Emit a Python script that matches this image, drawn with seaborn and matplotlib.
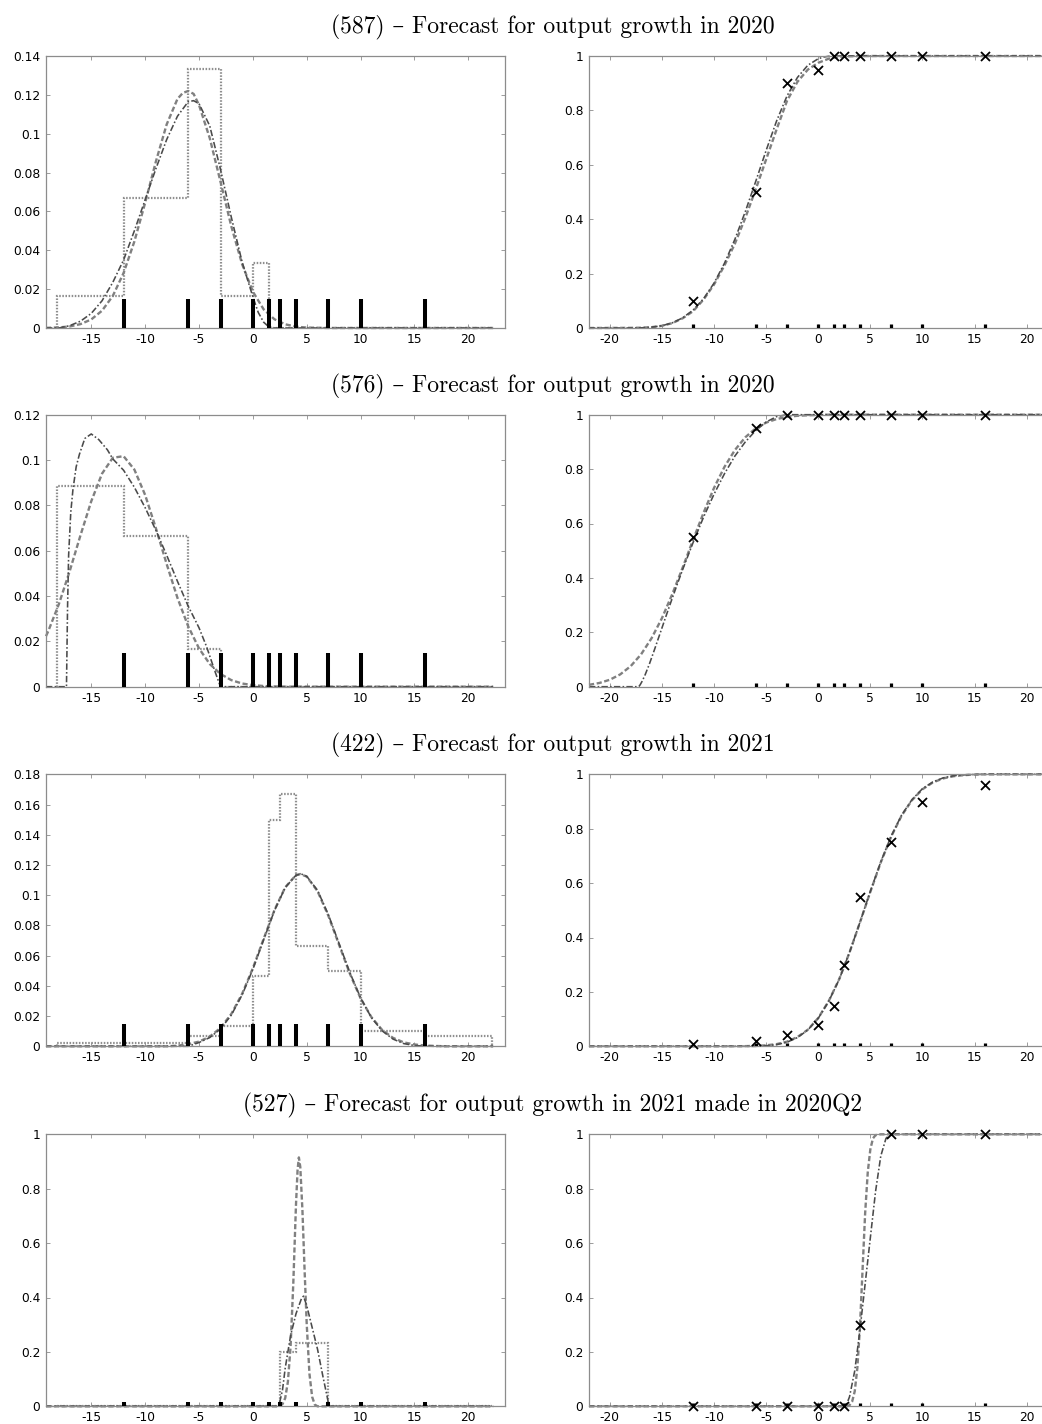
import matplotlib
matplotlib.use("Agg")
import matplotlib.pyplot as plt
from matplotlib.ticker import FuncFormatter
import seaborn as sns
import pandas as pd

# ---------------- data ----------------
TITLES = [
    "(587) \u2013 Forecast for output growth in 2020",
    "(576) \u2013 Forecast for output growth in 2020",
    "(422) \u2013 Forecast for output growth in 2021",
    "(527) \u2013 Forecast for output growth in 2021 made in 2020Q2",
]
BIN_EDGES = [-12, -6, -3, 0, 1.5, 2.5, 4, 7, 10, 16]
HIST_EDGES = [-18.2, -12, -6, -3, 0, 1.5, 2.5, 4, 7, 10, 16, 22.2]

R1_HIST = [0.0165, 0.0667, 0.1333, 0.0167, 0.0333, 0, 0, 0, 0, 0, 0]
R2_HIST = [0.0885, 0.0667, 0.0167, 0, 0, 0, 0, 0, 0, 0, 0]
R3_HIST = [0.002, 0.002, 0.0067, 0.0133, 0.0467, 0.15, 0.1667, 0.0667, 0.05, 0.01, 0.0067]
R4_HIST = [0, 0, 0, 0, 0, 0, 0.2, 0.2333, 0, 0, 0]

R1_CDF_PTS = [0.1, 0.5, 0.9, 0.95, 1, 1, 1, 1, 1, 1]
R2_CDF_PTS = [0.55, 0.95, 1, 1, 1, 1, 1, 1, 1, 1]
R3_CDF_PTS = [0.01, 0.02, 0.04, 0.08, 0.15, 0.30, 0.55, 0.75, 0.90, 0.96]
R4_CDF_PTS = [0, 0, 0, 0, 0, 0, 0.3, 1, 1, 1]

# row 1 fitted densities
R1_PDF_DASH_X = [-19.2, -19, -18, -17, -16, -15, -14, -13, -12, -11, -10, -9, -8, -7, -6.5, -6, -5.5,
                 -5, -4, -3, -2, -1, 0, 1, 2, 3, 4, 5, 6, 7, 22.3]
R1_PDF_DASH_Y = [0.0001, 0.0001, 0.0003, 0.0008, 0.002, 0.0044, 0.0089, 0.0165, 0.0283, 0.0445, 0.0644,
                 0.0857, 0.1048, 0.1179, 0.1210, 0.122, 0.1205, 0.1148, 0.0977, 0.0752, 0.0523, 0.0329,
                 0.0187, 0.0096, 0.0045, 0.0019, 0.0007, 0.0002, 0.0001, 0.0, 0.0]
R1_PDF_DD_X = [-19.2, -18, -17, -16, -15, -14, -13, -12, -11, -10, -9, -8, -7, -6, -5.5, -5, -4, -3,
               -2, -1, 0, 0.5, 1, 1.5, 2, 22.3]
R1_PDF_DD_Y = [0, 0, 0.0012, 0.0035, 0.0075, 0.014, 0.0235, 0.035, 0.05, 0.066, 0.082, 0.097, 0.109,
               0.1165, 0.117, 0.1155, 0.104, 0.0815, 0.057, 0.034, 0.016, 0.008, 0.003, 0.0005, 0, 0]
R1_CDF_DASH_X = [-22, -18, -17, -16, -15, -14, -13, -12, -11, -10, -9, -8, -7, -6, -5, -4, -3, -2, -1,
                 0, 1, 2, 3, 4, 22]
R1_CDF_DASH_Y = [0, 0.0005, 0.001, 0.003, 0.008, 0.018, 0.036, 0.062, 0.105, 0.16, 0.23, 0.31, 0.405,
                 0.51, 0.62, 0.73, 0.835, 0.905, 0.95, 0.975, 0.99, 0.997, 0.999, 1.0, 1.0]
R1_CDF_DD_X = [-22, -18, -17, -16, -15, -14, -13, -12, -11, -10, -9, -8, -7, -6, -5, -4, -3, -2, -1,
               0, 0.5, 1, 1.5, 22]
R1_CDF_DD_Y = [0, 0, 0.0006, 0.003, 0.0084, 0.019, 0.0375, 0.0663, 0.108, 0.165, 0.238, 0.326, 0.428,
               0.539, 0.653, 0.761, 0.853, 0.921, 0.966, 0.99, 0.996, 0.999, 1.0, 1.0]

# row 2
R2_PDF_DASH_X = [-19.2, -19, -18, -17, -16, -15, -14, -13, -12, -11, -10, -9, -8, -7, -6, -5, -4, -3,
                 -2, -1, 0, 1, 2, 3, 22.3]
R2_PDF_DASH_Y = [0.0223, 0.0244, 0.0365, 0.051, 0.0668, 0.0818, 0.094, 0.101, 0.1017, 0.0958, 0.0846,
                 0.0699, 0.0541, 0.0392, 0.0266, 0.0169, 0.01, 0.0056, 0.0029, 0.0014, 0.0007, 0.0003,
                 0.0001, 0, 0]
R2_PDF_DD_X = [-19.2, -17.3, -17.2, -17.1, -16.9, -16.7, -16.4, -16.1, -15.6, -15, -14.3, -13.5, -13,
               -12, -11, -10, -9, -8, -7, -6, -5, -4.3, -4, -3.5, -3.2, -3, 22.3]
R2_PDF_DD_Y = [0, 0, 0.035, 0.058, 0.077, 0.087, 0.097, 0.1025, 0.1095, 0.1115, 0.109, 0.1045, 0.1005,
               0.0955, 0.088, 0.079, 0.069, 0.058, 0.0465, 0.0355, 0.026, 0.0177, 0.0135, 0.0065,
               0.0025, 0, 0]
R2_CDF_DASH_X = [-22, -21, -20, -19, -18, -17, -16, -15, -14, -13, -12, -11, -10, -9, -8, -7, -6, -5,
                 -4, -3, -2, -1, 0, 1, 22]
R2_CDF_DASH_Y = [0.0069, 0.0137, 0.0256, 0.0453, 0.0755, 0.119, 0.178, 0.252, 0.341, 0.439, 0.541,
                 0.64, 0.731, 0.808, 0.87, 0.917, 0.95, 0.971, 0.984, 0.992, 0.996, 0.998, 0.999, 1.0,
                 1.0]
R2_CDF_DD_X = [-22, -17.3, -17.2, -17.1, -16.9, -16.6, -16.2, -15.7, -15, -14.3, -13.5, -13, -12, -11,
               -10, -9, -8, -7, -6, -5, -4, -3, 22]
R2_CDF_DD_Y = [0, 0, 0.0017, 0.0064, 0.02, 0.045, 0.084, 0.138, 0.216, 0.294, 0.38, 0.432, 0.531,
               0.624, 0.708, 0.783, 0.848, 0.90, 0.942, 0.973, 0.993, 1.0, 1.0]

# row 3
R3_PDF_DASH_X = [-19.2, -8, -7, -6, -5, -4, -3, -2, -1, 0, 1, 2, 3, 4, 4.4, 5, 6, 7, 8, 9, 10, 11, 12,
                 13, 14, 15, 16, 17, 18, 22.3]
R3_PDF_DASH_Y = [0, 0, 0.0004, 0.0014, 0.0031, 0.0064, 0.0122, 0.0214, 0.0347, 0.0517, 0.0711, 0.0901,
                 0.1052, 0.1133, 0.114, 0.1123, 0.1027, 0.0865, 0.0672, 0.0481, 0.0317, 0.0193, 0.0108,
                 0.0056, 0.0026, 0.0012, 0.0005, 0.0002, 0, 0]
R3_PDF_DD_X = [-19.2, -6, -5, -4, -3, -2, -1, 0, 1, 2, 3, 4, 4.5, 5, 6, 7, 8, 9, 10, 11, 12, 13, 14, 15,
               16, 17, 22.3]
R3_PDF_DD_Y = [0, 0, 0.0025, 0.0058, 0.0115, 0.0207, 0.034, 0.051, 0.0705, 0.0898, 0.105, 0.1132,
               0.114, 0.1125, 0.1032, 0.0872, 0.068, 0.0488, 0.032, 0.019, 0.0102, 0.0048, 0.0018,
               0.0005, 0.0001, 0, 0]
R3_CDF_DASH_X = [-22, -8, -7, -6, -5, -4, -3, -2, -1, 0, 1, 2, 3, 4, 5, 6, 7, 8, 9, 10, 11, 12, 13, 14,
                 15, 16, 22]
R3_CDF_DASH_Y = [0, 0.0002, 0.0006, 0.0015, 0.0036, 0.008, 0.017, 0.034, 0.061, 0.104, 0.166, 0.246,
                 0.345, 0.455, 0.568, 0.676, 0.771, 0.848, 0.905, 0.945, 0.970, 0.985, 0.993, 0.997,
                 0.999, 1.0, 1.0]
R3_CDF_DD_X = [-22, -6, -5, -4, -3, -2, -1, 0, 1, 2, 3, 4, 5, 6, 7, 8, 9, 10, 11, 12, 13, 14, 15, 16,
               22]
R3_CDF_DD_Y = [0, 0, 0.002, 0.006, 0.015, 0.032, 0.06, 0.103, 0.165, 0.245, 0.345, 0.456, 0.57, 0.678,
               0.773, 0.85, 0.907, 0.947, 0.972, 0.987, 0.995, 0.998, 0.9995, 1.0, 1.0]

# row 4
R4_PDF_DASH_X = [-19.2, 2.4, 2.75, 3.0, 3.25, 3.5, 3.75, 4.0, 4.15, 4.27, 4.4, 4.6, 4.8, 5.0, 5.25, 5.5,
                 5.75, 6.0, 22.3]
R4_PDF_DASH_Y = [0, 0, 0.008, 0.03, 0.09, 0.22, 0.45, 0.74, 0.87, 0.915, 0.88, 0.72, 0.5, 0.3, 0.12,
                 0.035, 0.006, 0, 0]
R4_PDF_DD_X = [-19.2, 2.4, 2.75, 3.0, 3.5, 4.0, 4.5, 4.7, 5.0, 5.5, 6.0, 6.5, 7.0, 7.1, 22.3]
R4_PDF_DD_Y = [0, 0, 0.06, 0.14, 0.26, 0.34, 0.395, 0.405, 0.37, 0.29, 0.21, 0.11, 0.015, 0, 0]
R4_CDF_DASH_X = [-22, 2.75, 3.0, 3.25, 3.5, 3.75, 4.0, 4.25, 4.5, 4.75, 5.0, 5.25, 5.5, 6.0, 22]
R4_CDF_DASH_Y = [0, 0, 0.004, 0.017, 0.055, 0.14, 0.29, 0.5, 0.71, 0.86, 0.945, 0.985, 0.997, 1.0, 1.0]
R4_CDF_DD_X = [-22, 2.4, 2.75, 3.0, 3.5, 4.0, 4.5, 5.0, 5.5, 6.0, 6.5, 6.9, 22]
R4_CDF_DD_Y = [0, 0, 0.01, 0.035, 0.13, 0.28, 0.45, 0.62, 0.79, 0.92, 0.985, 1.0, 1.0]

LEFT_YMAX = [0.14, 0.12, 0.18, 1.0]
LEFT_YSTEP = [0.02, 0.02, 0.02, 0.2]

ROWS = [
    (R1_HIST, R1_CDF_PTS, (R1_PDF_DASH_X, R1_PDF_DASH_Y), (R1_PDF_DD_X, R1_PDF_DD_Y),
     (R1_CDF_DASH_X, R1_CDF_DASH_Y), (R1_CDF_DD_X, R1_CDF_DD_Y)),
    (R2_HIST, R2_CDF_PTS, (R2_PDF_DASH_X, R2_PDF_DASH_Y), (R2_PDF_DD_X, R2_PDF_DD_Y),
     (R2_CDF_DASH_X, R2_CDF_DASH_Y), (R2_CDF_DD_X, R2_CDF_DD_Y)),
    (R3_HIST, R3_CDF_PTS, (R3_PDF_DASH_X, R3_PDF_DASH_Y), (R3_PDF_DD_X, R3_PDF_DD_Y),
     (R3_CDF_DASH_X, R3_CDF_DASH_Y), (R3_CDF_DD_X, R3_CDF_DD_Y)),
    (R4_HIST, R4_CDF_PTS, (R4_PDF_DASH_X, R4_PDF_DASH_Y), (R4_PDF_DD_X, R4_PDF_DD_Y),
     (R4_CDF_DASH_X, R4_CDF_DASH_Y), (R4_CDF_DD_X, R4_CDF_DD_Y)),
]

# ---------------- style ----------------
sns.set_theme(style="white")
plt.rcParams["font.family"] = ["DejaVu Sans"]
plt.rcParams["axes.unicode_minus"] = False

W, H = 1042, 1424
fig = plt.figure(figsize=(W / 100, H / 100), dpi=100)

DASH_COLOR = "#808080"
DD_COLOR = "#4a4a4a"
HIST_COLOR = "#8e8e8e"
SPINE_COLOR = "#8c8c8c"
DASH_LS = (0, (2.2, 1.1))
DD_LS = (0, (4.0, 1.4, 1.0, 1.4))
HIST_LS = (0, (0.7, 0.7))

fmt = FuncFormatter(lambda v, p: "%g" % round(v, 6))

ROW_TOPS = [56, 414.7, 774.3, 1134.3]
AX_H = 272
LEFT_X0, LEFT_W = 46, 459
RIGHT_X0, RIGHT_W = 589, 458.5


def style_axes(ax):
    for s in ax.spines.values():
        s.set_color(SPINE_COLOR)
        s.set_linewidth(0.9)
        s.set_visible(True)
    ax.tick_params(direction="in", length=3, width=0.6, color=SPINE_COLOR,
                   top=True, right=True, bottom=True, left=True,
                   labelsize=8.8, labelcolor="black")
    ax.tick_params(axis="x", pad=3.5)
    ax.tick_params(axis="y", pad=4)
    ax.xaxis.set_major_formatter(fmt)
    ax.yaxis.set_major_formatter(fmt)
    ax.grid(False)
    ax.set_xlabel("")
    ax.set_ylabel("")


def line(ax, xy, color, ls, lw):
    df = pd.DataFrame({"x": xy[0], "y": xy[1]})
    sns.lineplot(data=df, x="x", y="y", ax=ax, color=color, linestyle=ls,
                 linewidth=lw, errorbar=None, sort=False, clip_on=False)


for i, (hist, cdf_pts, pdf_dash, pdf_dd, cdf_dash, cdf_dd) in enumerate(ROWS):
    top = ROW_TOPS[i]
    bottom_frac = 1 - (top + AX_H) / H
    h_frac = AX_H / H
    axl = fig.add_axes([LEFT_X0 / W, bottom_frac, LEFT_W / W, h_frac])
    axr = fig.add_axes([RIGHT_X0 / W, bottom_frac, RIGHT_W / W, h_frac])

    # ---- left: histogram + fitted densities ----
    ymax = LEFT_YMAX[i]
    axl.stairs(hist, HIST_EDGES, baseline=0, color=HIST_COLOR, linestyle=HIST_LS,
               linewidth=1.6, zorder=2)
    line(axl, pdf_dash, DASH_COLOR, DASH_LS, 1.7)
    line(axl, pdf_dd, DD_COLOR, DD_LS, 1.15)
    axl.vlines(BIN_EDGES, 0, 0.015, colors="black", linewidth=2.9, zorder=4,
               capstyle="butt")
    axl.set_xlim(-19.2, 23.4)
    axl.set_ylim(0, ymax)
    axl.set_xticks([-15, -10, -5, 0, 5, 10, 15, 20])
    step = LEFT_YSTEP[i]
    n = int(round(ymax / step))
    axl.set_yticks([round(k * step, 4) for k in range(n + 1)])
    style_axes(axl)

    # ---- right: CDFs ----
    line(axr, cdf_dash, DASH_COLOR, DASH_LS, 1.7)
    line(axr, cdf_dd, DD_COLOR, DD_LS, 1.15)
    axr.vlines(BIN_EDGES, 0, 0.013, colors="black", linewidth=2.3, zorder=4)
    sns.scatterplot(x=BIN_EDGES, y=cdf_pts, ax=axr, marker="x", color="black",
                    s=42, linewidth=1.3, zorder=5, clip_on=False, legend=False)
    axr.set_xlim(-22, 22)
    axr.set_ylim(0, 1)
    axr.set_xticks([-20, -15, -10, -5, 0, 5, 10, 15, 20])
    axr.set_yticks([0, 0.2, 0.4, 0.6, 0.8, 1.0])
    style_axes(axr)

    fig.text(553 / W, 1 - (top - 22.5) / H, TITLES[i], ha="center", va="baseline",
             fontsize=17, family=["cmr10", "DejaVu Serif"], color="black")

fig.savefig("out.png", dpi=100)
